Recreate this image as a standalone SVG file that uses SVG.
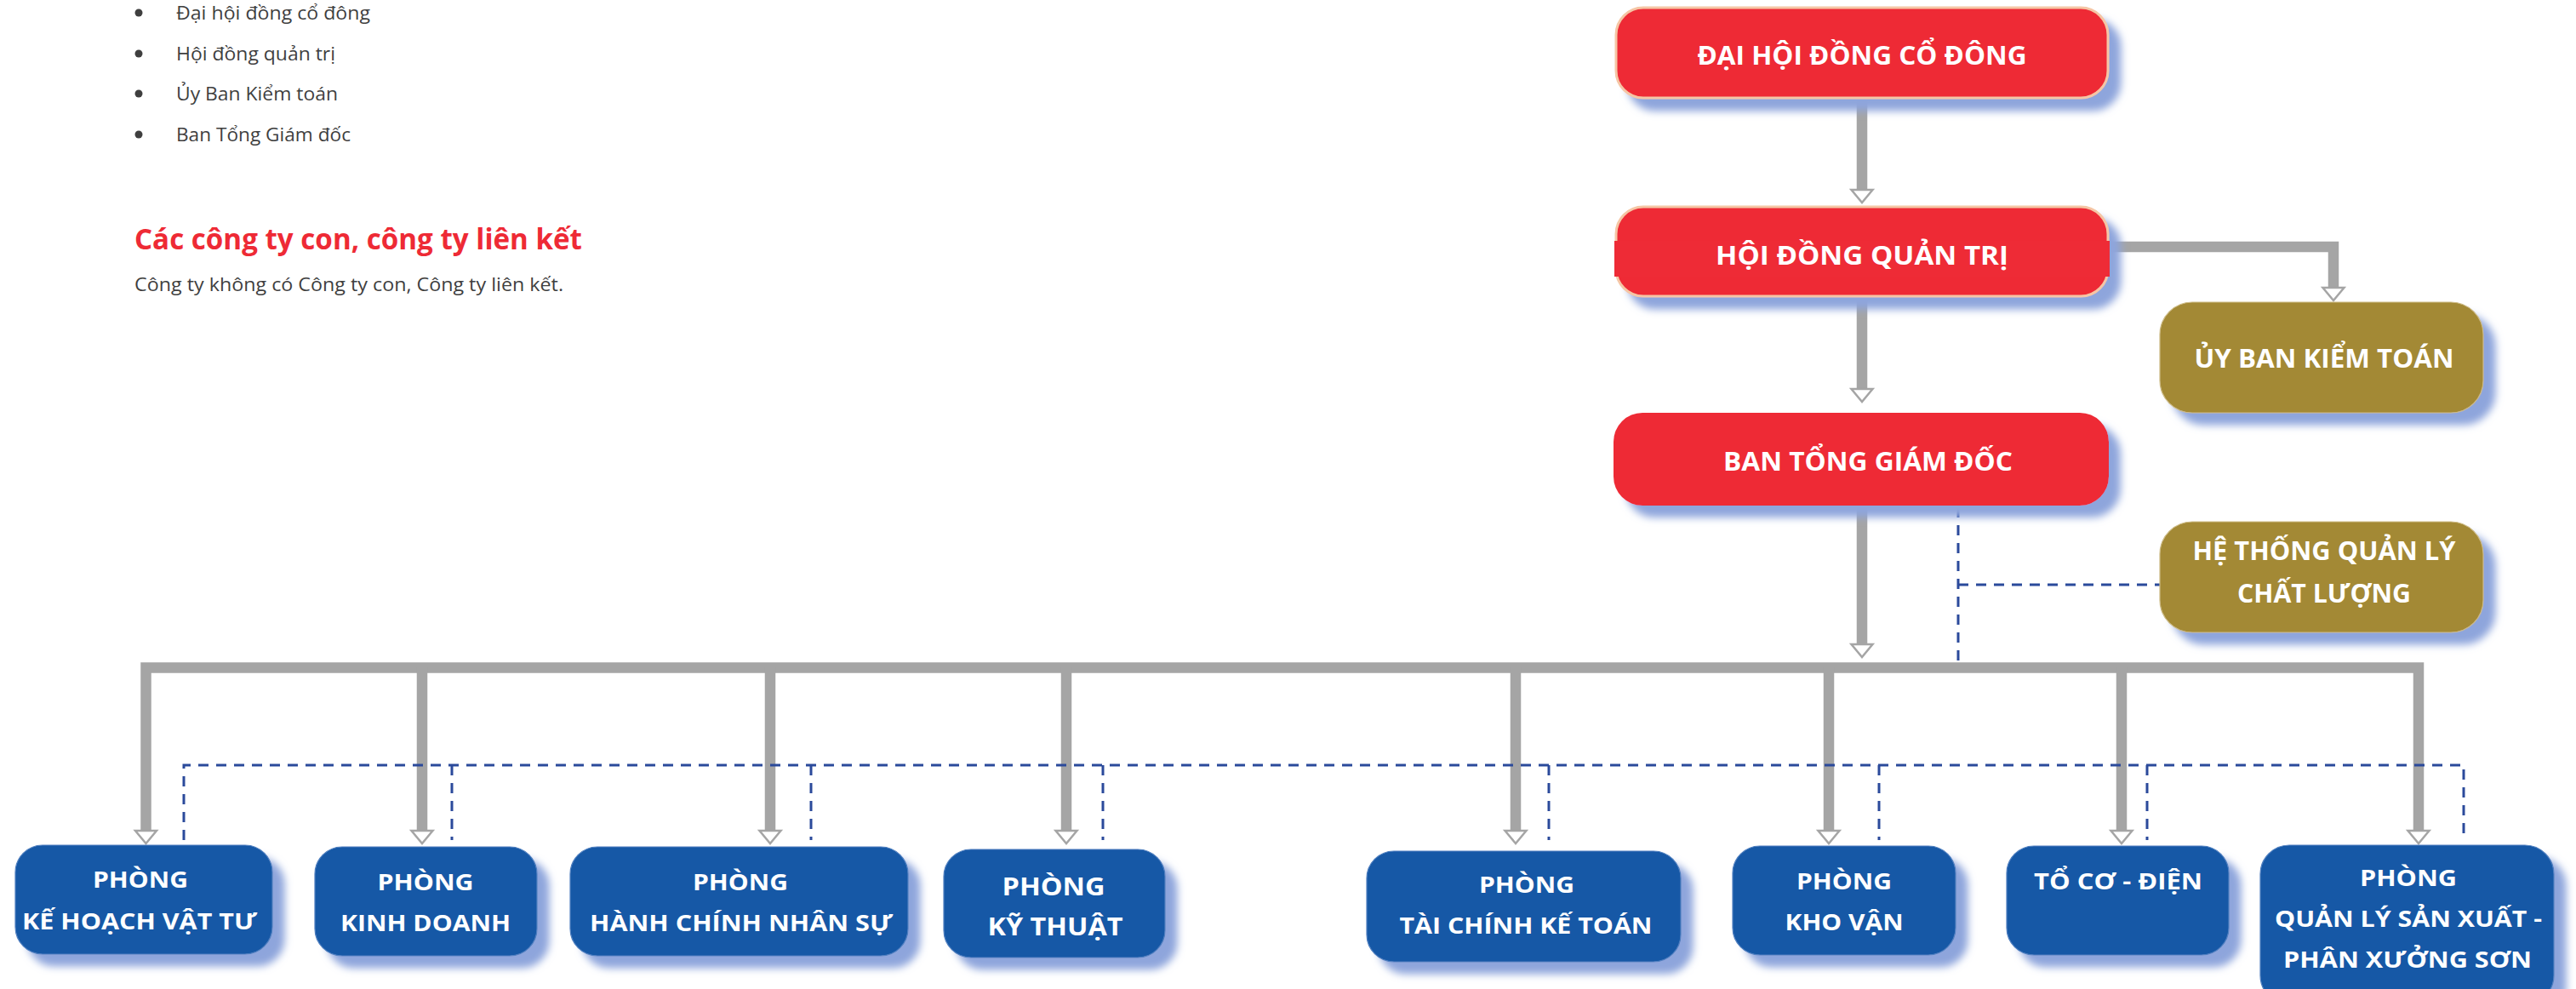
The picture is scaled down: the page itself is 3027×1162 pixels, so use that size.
<svg xmlns="http://www.w3.org/2000/svg" width="3027" height="1162" viewBox="0 0 3027 1162">
<style>
.body{font-family:"Open Sans","Noto Sans","DejaVu Sans",sans-serif;font-size:22px;fill:#3f3f3f}
.head{font-family:"Open Sans","Noto Sans","DejaVu Sans",sans-serif;font-size:34px;font-weight:700;fill:#ee2a35}
.lbl{font-family:"Open Sans","Noto Sans","DejaVu Sans",sans-serif;font-weight:700;fill:#ffffff;text-anchor:middle}
.big{font-size:31px}
.sm{font-size:27px}
.red{fill:#ee2b36}
.redb{fill:#ee2b36;stroke:#f5c6a5;stroke-width:3}
.gold{fill:#a38935;stroke:#cdbb86;stroke-width:1.2}
.blue{fill:#1759a6;stroke:#4f7fc0;stroke-width:1.2}
.conn{fill:none;stroke:#a5a5a5;stroke-width:12.5;stroke-linejoin:miter;stroke-linecap:butt}
.dash{fill:none;stroke:#2b4a9b;stroke-width:3;stroke-dasharray:12 9}
</style>
<defs>
<filter id="sh" x="-10%" y="-20%" width="130%" height="160%">
<feDropShadow dx="14" dy="14" stdDeviation="5" flood-color="#8ea5dc" flood-opacity="1"/>
</filter>
<marker id="arr" markerUnits="userSpaceOnUse" viewBox="-3 -16 22 32" markerWidth="22" markerHeight="32" refX="0" refY="0" orient="auto-start-reverse">
<path d="M0,-12.5 L15,0 L0,12.5 Z" fill="#ffffff" stroke="#a5a5a5" stroke-width="2.5" stroke-linejoin="miter"/>
</marker>
</defs>

<g id="intro">
<circle cx="163" cy="15" r="4.5" fill="#3f3f3f"/>
<circle cx="163" cy="63" r="4.5" fill="#3f3f3f"/>
<circle cx="163" cy="110" r="4.5" fill="#3f3f3f"/>
<circle cx="163" cy="158" r="4.5" fill="#3f3f3f"/>
<text class="body" x="207" y="23" textLength="228" lengthAdjust="spacingAndGlyphs">Đại hội đồng cổ đông</text>
<text class="body" x="207" y="71" textLength="187" lengthAdjust="spacingAndGlyphs">Hội đồng quản trị</text>
<text class="body" x="207" y="118" textLength="190" lengthAdjust="spacingAndGlyphs">Ủy Ban Kiểm toán</text>
<text class="body" x="207" y="166" textLength="205" lengthAdjust="spacingAndGlyphs">Ban Tổng Giám đốc</text>
<text class="head" x="158" y="293" textLength="526" lengthAdjust="spacingAndGlyphs">Các công ty con, công ty liên kết</text>
<text class="body" x="158" y="342" textLength="504" lengthAdjust="spacingAndGlyphs">Công ty không có Công ty con, Công ty liên kết.</text>
</g>

<g id="connectors">
<path class="conn" d="M2188,115 V223" marker-end="url(#arr)"/>
<path class="conn" d="M2188,348 V457" marker-end="url(#arr)"/>
<path class="conn" d="M2478,290 H2742 V338" marker-end="url(#arr)"/>
<path class="conn" d="M2188,594 V757" marker-end="url(#arr)"/>
<path class="conn" d="M171.5,976 V784.5 H2842 V976" marker-start="url(#arr)" marker-end="url(#arr)"/>
<path class="conn" d="M496,784 V976" marker-end="url(#arr)"/>
<path class="conn" d="M905,784 V976" marker-end="url(#arr)"/>
<path class="conn" d="M1253,784 V976" marker-end="url(#arr)"/>
<path class="conn" d="M1781,784 V976" marker-end="url(#arr)"/>
<path class="conn" d="M2149,784 V976" marker-end="url(#arr)"/>
<path class="conn" d="M2493,784 V976" marker-end="url(#arr)"/>
<path class="dash" d="M2301,596 V778"/>
<path class="dash" d="M2301,687 H2538"/>
<path class="dash" d="M216,987 V899 H2895 V987"/>
<path class="dash" d="M531,899 V987"/>
<path class="dash" d="M953,899 V987"/>
<path class="dash" d="M1296,899 V987"/>
<path class="dash" d="M1820,899 V987"/>
<path class="dash" d="M2208,899 V987"/>
<path class="dash" d="M2523,899 V987"/>
</g>

<g id="dhdcd">
<rect class="redb" x="1899" y="9" width="578" height="106" rx="32" filter="url(#sh)"/>
<text class="lbl big" x="2188" y="76" textLength="387" lengthAdjust="spacingAndGlyphs">ĐẠI HỘI ĐỒNG CỔ ĐÔNG</text>
</g>

<g id="hdqt">
<rect class="redb" x="1899" y="243" width="578" height="105" rx="32" filter="url(#sh)"/>
<rect class="red" x="1897" y="283" width="582" height="42"/>
<text class="lbl big" x="2188" y="311" textLength="344" lengthAdjust="spacingAndGlyphs">HỘI ĐỒNG QUẢN TRỊ</text>
</g>

<g id="ubkt">
<rect class="gold" x="2538" y="355" width="380" height="130" rx="38" filter="url(#sh)"/>
<text class="lbl big" x="2731" y="432" textLength="305" lengthAdjust="spacingAndGlyphs">ỦY BAN KIỂM TOÁN</text>
</g>

<g id="btgd">
<rect class="red" x="1896" y="485" width="582" height="109" rx="34" filter="url(#sh)"/>
<text class="lbl big" x="2195" y="553" textLength="340" lengthAdjust="spacingAndGlyphs">BAN TỔNG GIÁM ĐỐC</text>
</g>

<g id="htqlcl">
<rect class="gold" x="2538" y="613" width="380" height="130" rx="38" filter="url(#sh)"/>
<text class="lbl big" x="2731" y="658" textLength="309" lengthAdjust="spacingAndGlyphs">HỆ THỐNG QUẢN LÝ</text>
<text class="lbl big" x="2731" y="708" textLength="204" lengthAdjust="spacingAndGlyphs">CHẤT LƯỢNG</text>
</g>

<g id="p-khvt">
<rect class="blue" x="18" y="993" width="302" height="128" rx="32" filter="url(#sh)"/>
<text class="lbl sm" x="165" y="1043" textLength="112" lengthAdjust="spacingAndGlyphs">PHÒNG</text>
<text class="lbl sm" x="164" y="1092" textLength="276" lengthAdjust="spacingAndGlyphs">KẾ HOẠCH VẬT TƯ</text>
</g>

<g id="p-kd">
<rect class="blue" x="370" y="995" width="261" height="128" rx="32" filter="url(#sh)"/>
<text class="lbl sm" x="500" y="1046" textLength="113" lengthAdjust="spacingAndGlyphs">PHÒNG</text>
<text class="lbl sm" x="500" y="1094" textLength="200" lengthAdjust="spacingAndGlyphs">KINH DOANH</text>
</g>

<g id="p-hcns">
<rect class="blue" x="670" y="995" width="397" height="128" rx="32" filter="url(#sh)"/>
<text class="lbl sm" x="870" y="1046" textLength="112" lengthAdjust="spacingAndGlyphs">PHÒNG</text>
<text class="lbl sm" x="871" y="1094" textLength="356" lengthAdjust="spacingAndGlyphs">HÀNH CHÍNH NHÂN SỰ</text>
</g>

<g id="p-kt">
<rect class="blue" x="1109" y="998" width="260" height="127" rx="32" filter="url(#sh)"/>
<text class="lbl" font-size="29" x="1238" y="1052" textLength="121" lengthAdjust="spacingAndGlyphs">PHÒNG</text>
<text class="lbl" font-size="29" x="1240" y="1099" textLength="159" lengthAdjust="spacingAndGlyphs">KỸ THUẬT</text>
</g>

<g id="p-tckt">
<rect class="blue" x="1606" y="1000" width="369" height="130" rx="32" filter="url(#sh)"/>
<text class="lbl sm" x="1794" y="1049" textLength="112" lengthAdjust="spacingAndGlyphs">PHÒNG</text>
<text class="lbl sm" x="1793" y="1097" textLength="297" lengthAdjust="spacingAndGlyphs">TÀI CHÍNH KẾ TOÁN</text>
</g>

<g id="p-kv">
<rect class="blue" x="2036" y="994" width="262" height="128" rx="32" filter="url(#sh)"/>
<text class="lbl sm" x="2167" y="1045" textLength="112" lengthAdjust="spacingAndGlyphs">PHÒNG</text>
<text class="lbl sm" x="2167" y="1093" textLength="139" lengthAdjust="spacingAndGlyphs">KHO VẬN</text>
</g>

<g id="to-co-dien">
<rect class="blue" x="2358" y="994" width="261" height="128" rx="32" filter="url(#sh)"/>
<text class="lbl sm" x="2489" y="1045" textLength="198" lengthAdjust="spacingAndGlyphs">TỔ CƠ - ĐIỆN</text>
</g>

<g id="p-qlsx">
<rect class="blue" x="2656" y="993" width="345" height="187" rx="34" filter="url(#sh)"/>
<text class="lbl sm" x="2830" y="1041" textLength="114" lengthAdjust="spacingAndGlyphs">PHÒNG</text>
<text class="lbl sm" x="2830" y="1089" textLength="314" lengthAdjust="spacingAndGlyphs">QUẢN LÝ SẢN XUẤT -</text>
<text class="lbl sm" x="2829" y="1137" textLength="292" lengthAdjust="spacingAndGlyphs">PHÂN XƯỞNG SƠN</text>
</g>
</svg>
